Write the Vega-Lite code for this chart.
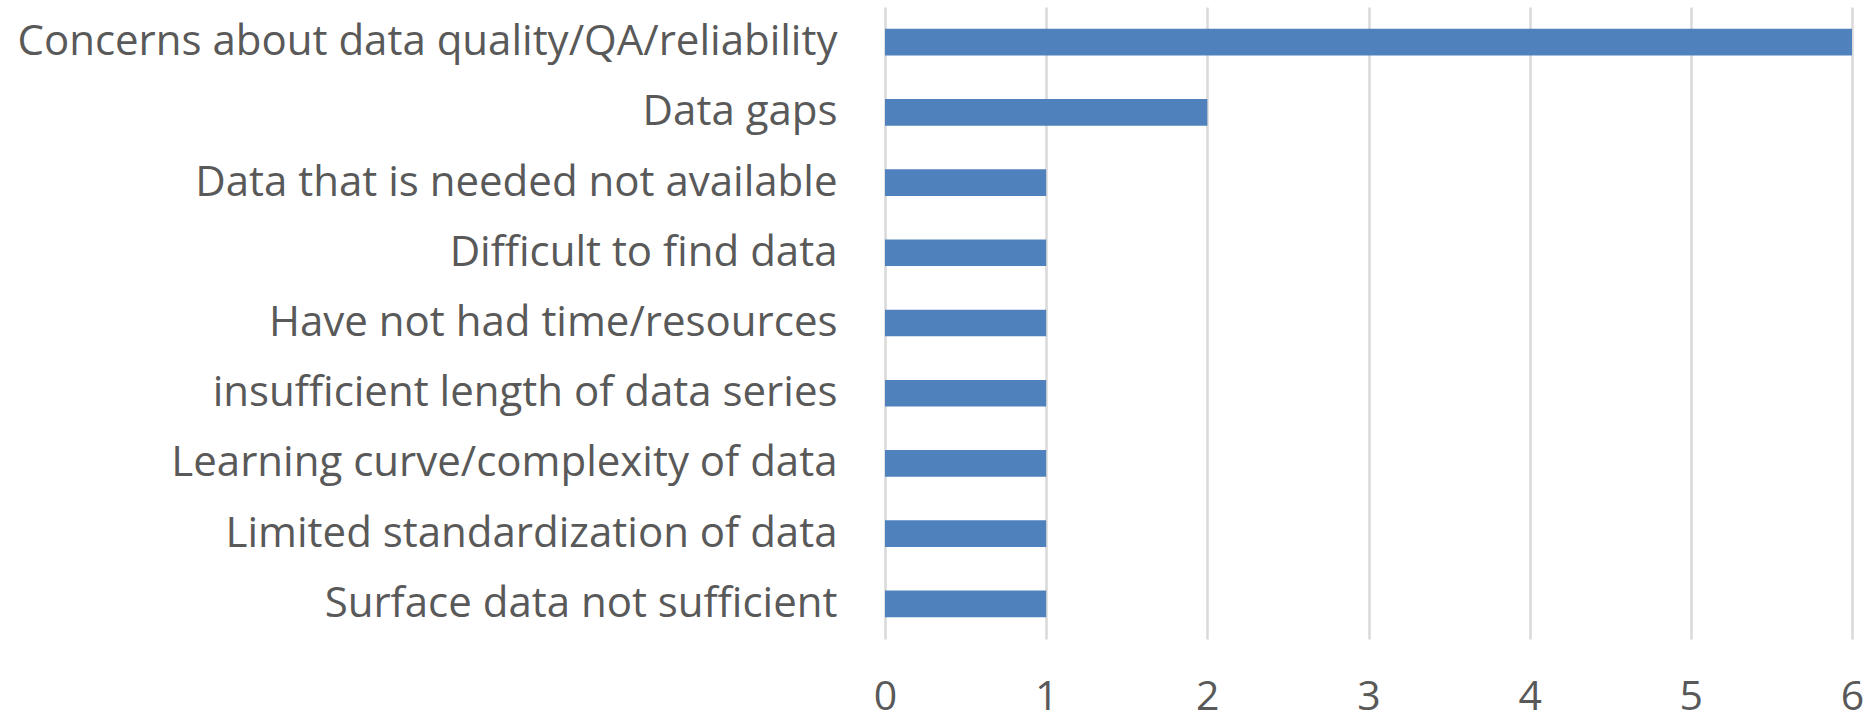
{
  "$schema": "https://vega.github.io/schema/vega-lite/v6.json",
  "autosize": {"type": "none"},
  "width": 967,
  "height": 632,
  "padding": {"left": 885, "top": 7, "right": 24, "bottom": 82},
  "background": "white",
  "config": {"view": {"stroke": null}, "font": "Open Sans"},
  "data": {"values": [
    {"issue": "Concerns about data quality/QA/reliability", "count": 6},
    {"issue": "Data gaps", "count": 2},
    {"issue": "Data that is needed not available", "count": 1},
    {"issue": "Difficult to find data", "count": 1},
    {"issue": "Have not had time/resources", "count": 1},
    {"issue": "insufficient length of data series", "count": 1},
    {"issue": "Learning curve/complexity of data", "count": 1},
    {"issue": "Limited standardization of data", "count": 1},
    {"issue": "Surface data not sufficient", "count": 1}
  ]},
  "mark": {"type": "bar", "color": "#4f81bd"},
  "encoding": {
    "y": {"field": "issue", "type": "nominal", "sort": null,
      "scale": {"paddingInner": 0.62, "paddingOuter": 0.31},
      "axis": {"title": null, "domain": false, "ticks": false, "labelFontSize": 42, "labelColor": "#595959", "labelPadding": 48, "labelLimit": 900, "labelFont": "Open Sans", "labelOverlap": false}},
    "x": {"field": "count", "type": "quantitative",
      "scale": {"domain": [0, 6], "nice": false},
      "axis": {"title": null, "domain": false, "ticks": false, "values": [0,1,2,3,4,5,6], "grid": true, "gridColor": "#d9d9d9", "gridWidth": 2.5, "labelFontSize": 41, "labelColor": "#595959", "labelPadding": 38, "labelFont": "Open Sans", "labelFlush": false, "labelOverlap": false}}
  }
}
